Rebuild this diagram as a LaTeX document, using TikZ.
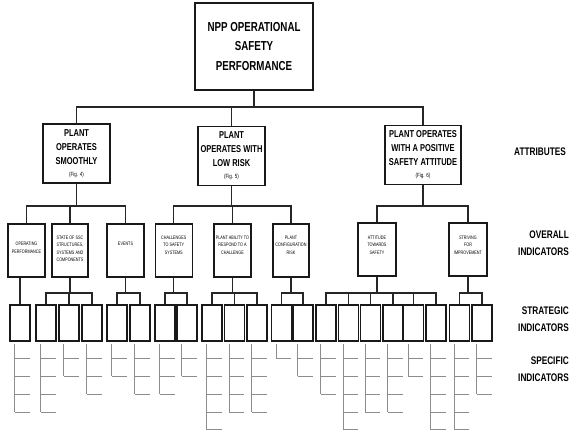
\documentclass[tikz,border=0pt]{standalone}
\usepackage{fontspec}
\newfontfamily\nf[FakeStretch=0.75]{Liberation Sans}
\begin{document}
\begin{tikzpicture}[x=1pt,y=-1pt,
  box/.style={draw=black!90, line width=1.4pt, inner sep=0pt, align=center},
  topbox/.style={box, line width=1.3pt, minimum width=118, minimum height=87,
     font=\nf\bfseries\fontsize{13}{19.5}\selectfont},
  attbox/.style={box, minimum height=59, font=\nf\bfseries\fontsize{10}{14}\selectfont},
  ovbox/.style={box, minimum width=37, minimum height=53},
  ovtext/.style={inner sep=0pt, align=center, font=\nf\fontsize{5}{7.5}\selectfont},
  stbox/.style={box, line width=1.3pt, minimum width=20, minimum height=36},
  conn/.style={draw=black!85, line width=1.2pt},
  spec/.style={draw=black!45, line width=0.8pt},
  side/.style={inner sep=0pt, align=right, anchor=east, font=\nf\bfseries\fontsize{11}{17.5}\selectfont},
  fig/.style={font=\nf\fontsize{6}{7}\selectfont}
]
\useasboundingbox (0,0) rectangle (570,435);

% top
\node[topbox] (t) at (254,46.5) {NPP OPERATIONAL\\SAFETY\\PERFORMANCE};

% attributes
\node[attbox, minimum width=67] (a1) at (76.5,153.5) {PLANT\\OPERATES\\SMOOTHLY\\[-2pt]{\nf\mdseries\fontsize{6}{7}\selectfont (Fig. 4)}};
\node[attbox, minimum width=67] (a2) at (231.5,156) {PLANT\\OPERATES WITH\\LOW RISK\\[-2pt]{\nf\mdseries\fontsize{6}{7}\selectfont (Fig. 5)}};
\node[attbox, minimum width=76] (a3) at (423,155) {PLANT OPERATES\\WITH A POSITIVE\\SAFETY ATTITUDE\\[-2pt]{\nf\mdseries\fontsize{6}{7}\selectfont (Fig. 6)}};

% overall indicators
\node[ovbox] (o1) at (26.5,250.5) {};
\node[ovbox, minimum width=36] (o2) at (70,250.5) {};
\node[ovbox] (o3) at (125.5,250.5) {};
\node[ovbox] (o4) at (173.75,250.5) {};
\node[ovbox] (o5) at (232.5,250.5) {};
\node[ovbox, minimum width=36] (o6) at (291,250.5) {};
\node[ovbox, minimum width=38] (o7) at (377,249.5) {};
\node[ovbox, minimum width=38] (o8) at (468,249.5) {};

\node[ovtext] (o1t) at (26.5,248) {OPERATING\\PERFORMANCE};
\node[ovtext] (o2t) at (70,249) {STATE OF SSC\\STRUCTURES,\\SYSTEMS AND\\COMPONENTS};
\node[ovtext] (o3t) at (125.5,244) {EVENTS};
\node[ovtext] (o4t) at (173.75,245) {CHALLENGES\\TO SAFETY\\SYSTEMS};
\node[ovtext] (o5t) at (232.5,245) {PLANT ABILITY TO\\RESPOND TO A\\CHALLENGE};
\node[ovtext] (o6t) at (291,245) {PLANT\\CONFIGURATION\\RISK};
\node[ovtext] (o7t) at (377,245) {ATTITUDE\\TOWARDS\\SAFETY};
\node[ovtext] (o8t) at (468,245) {STRIVING\\FOR\\IMPROVEMENT};

% strategic indicators
\foreach \i/\x in {1/20,2/46,3/69,4/92,5/117,6/140,7/165,8/187,9/212,10/234.5,11/257,
  12/281.5,13/303,14/326,15/348.5,16/370.5,17/393,18/413.5,19/436,20/459.5,21/482}
  \node[stbox] (s\i) at (\x,323) {};

% bar levels
\coordinate (tb) at (0,107);
\coordinate (ob) at (0,206);
\coordinate (sb) at (0,293);

% top -> attributes
\draw[conn] (t.south) -- (t.south |- tb);
\draw[conn] (a1.north) |- (a3.north |- tb) -- (a3.north);
\draw[conn] (a2.north) -- (a2.north |- tb);

% attributes -> overall
\draw[conn] (a1.south) -- (a1.south |- ob);
\draw[conn] (o1.north) |- (o3.north |- ob) -- (o3.north);
\draw[conn] (o2.north) -- (o2.north |- ob);
\draw[conn] (a2.south) -- (a2.south |- ob);
\draw[conn] (o4.north) |- (o6.north |- ob) -- (o6.north);
\draw[conn] (o5.north) -- (o5.north |- ob);
\draw[conn] (a3.south) -- (a3.south |- ob);
\draw[conn] (o7.north) |- (o8.north |- ob) -- (o8.north);

% overall -> strategic
\draw[conn] (s1.north) -- (s1.north |- o1.south);
\draw[conn] (o2.south) -- (o2.south |- sb);
\draw[conn] (s2.north) |- (s4.north |- sb) -- (s4.north);
\draw[conn] (s3.north) -- (s3.north |- sb);
\draw[conn] (o3.south) -- (o3.south |- sb);
\draw[conn] (s5.north) |- (s6.north |- sb) -- (s6.north);
\draw[conn] (o4.south) -- (o4.south |- sb);
\draw[conn] (s7.north) |- (s8.north |- sb) -- (s8.north);
\draw[conn] (o5.south) -- (o5.south |- sb);
\draw[conn] (s9.north) |- (s11.north |- sb) -- (s11.north);
\draw[conn] (s10.north) -- (s10.north |- sb);
\draw[conn] (o6.south) -- (o6.south |- sb);
\draw[conn] (s12.north) |- (s13.north |- sb) -- (s13.north);
\draw[conn] (o7.south) -- (o7.south |- sb);
\draw[conn] (s14.north) |- (s19.north |- sb) -- (s19.north);
\foreach \i in {15,16,17,18} \draw[conn] (s\i.north) -- (s\i.north |- sb);
\draw[conn] (o8.south) -- (o8.south |- sb);
\draw[conn] (s20.north) |- (s21.north |- sb) -- (s21.north);

% specific indicators
\foreach \i/\n in {1/4,2/4,3/2,4/3,5/2,6/3,7/3,8/2,9/5,10/4,11/4,12/1,13/2,14/3,15/5,
  16/4,17/4,18/2,19/5,20/5,21/3} {
  \draw[spec] ([xshift=5.5pt,yshift=-2pt]s\i.south west) --
              ([xshift=5.5pt,yshift={-17pt-17.75pt*(\n-1)}]s\i.south west);
  \foreach \k in {1,...,\n}
    \draw[spec] ([xshift=5.5pt,yshift={-17pt-17.75pt*(\k-1)}]s\i.south west) --
                ([xshift=-1pt,yshift={-17pt-17.75pt*(\k-1)}]s\i.south east);
}

% side labels
\node[side, align=center, anchor=center] (la) at (540,152) {ATTRIBUTES};
\node[side] (lo) at (569,243) {OVERALL\\INDICATORS};
\node[side] (ls) at (569,319) {STRATEGIC\\INDICATORS};
\node[side] (lp) at (569,369) {SPECIFIC\\INDICATORS};
\end{tikzpicture}
\end{document}
